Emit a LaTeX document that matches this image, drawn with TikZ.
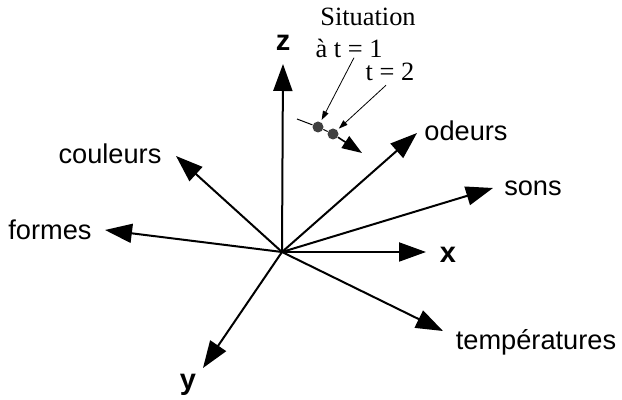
\documentclass[tikz,border=0pt]{standalone}
\usepackage{fontspec}
\setmainfont{Liberation Sans}
\newfontfamily\situationfont{Liberation Serif}
\usepackage{xcolor}
\usepackage{tikz}
\usetikzlibrary{arrows.meta}
\definecolor{dotgray}{RGB}{64,64,64}

\begin{document}
\begin{tikzpicture}[x=0.5pt, y=-0.5pt,
  axis/.style={line width=1pt, -{Triangle[length=13.5pt, width=9.5pt]}},
  pointer/.style={line width=0.4pt, -{Triangle[length=4.5pt, width=3pt]}, shorten >=1pt},
  dimlabel/.style={inner sep=0pt, font=\fontsize{13.6}{16}\selectfont},
  axislabel/.style={inner sep=0pt, font=\fontsize{14.5}{17}\selectfont\bfseries},
  situation/.style={inner sep=0pt, font=\fontsize{13.2}{15}\selectfont\situationfont},
  state/.style={circle, fill=dotgray, inner sep=0pt, minimum size=5.5pt}]
  \useasboundingbox (0,0) rectangle (622,400);

  % Origin
  \coordinate (o) at (282,252);

  % Axis ends
  \coordinate (zend) at (283,64);
  \coordinate (xend) at (426,252);
  \coordinate (yend) at (203,368);
  \coordinate (formesend) at (105,230);
  \coordinate (couleursend) at (176,156);
  \coordinate (odeursend) at (417,133);
  \coordinate (sonsend) at (493,188);
  \coordinate (tempend) at (443,331);

  % Axes
  \draw[axis] (o) -- (zend);
  \draw[axis] (o) -- (xend);
  \draw[axis] (o) -- (yend);
  \draw[axis] (o) -- (formesend);
  \draw[axis] (o) -- (couleursend);
  \draw[axis] (o) -- (odeursend);
  \draw[axis] (o) -- (sonsend);
  \draw[axis] (o) -- (tempend);

  % Axis labels
  \node[axislabel] (zlab) at (283,43) {z};
  \node[axislabel] (xlab) at (448,255) {x};
  \node[axislabel] (ylab) at (188,385) {y};
  \node[dimlabel] (formes) at (50,230) {formes};
  \node[dimlabel] (couleurs) at (110,154) {couleurs};
  \node[dimlabel] (odeurs) at (466,131) {odeurs};
  \node[dimlabel] (sons) at (533,188) {sons};
  \node[dimlabel] (temp) at (536,342) {températures};

  % Trajectory of the situation
  \coordinate (trajstart) at (297,119);
  \coordinate (trajend) at (362,153);
  \node[state] (d1) at (318,127) {};
  \node[state] (d2) at (333,134) {};
  \draw[line width=0.5pt] (trajstart) -- (d1);
  \draw[line width=0.5pt] (d1) -- (d2);
  \draw[line width=0.8pt, -{Triangle[length=10pt, width=7pt]}] (d2) -- (trajend);

  % Situation labels
  \node[situation] (sit) at (368,17) {Situation};
  \node[situation] (t1) at (349,48) {à t = 1};
  \node[situation] (t2) at (390,72) {t = 2};
  \draw[pointer] ([xshift=2.5pt]t1.south) -- (d1);
  \draw[pointer] ([xshift=-2pt, yshift=-2pt]t2.south) -- (d2);

\end{tikzpicture}
\end{document}
